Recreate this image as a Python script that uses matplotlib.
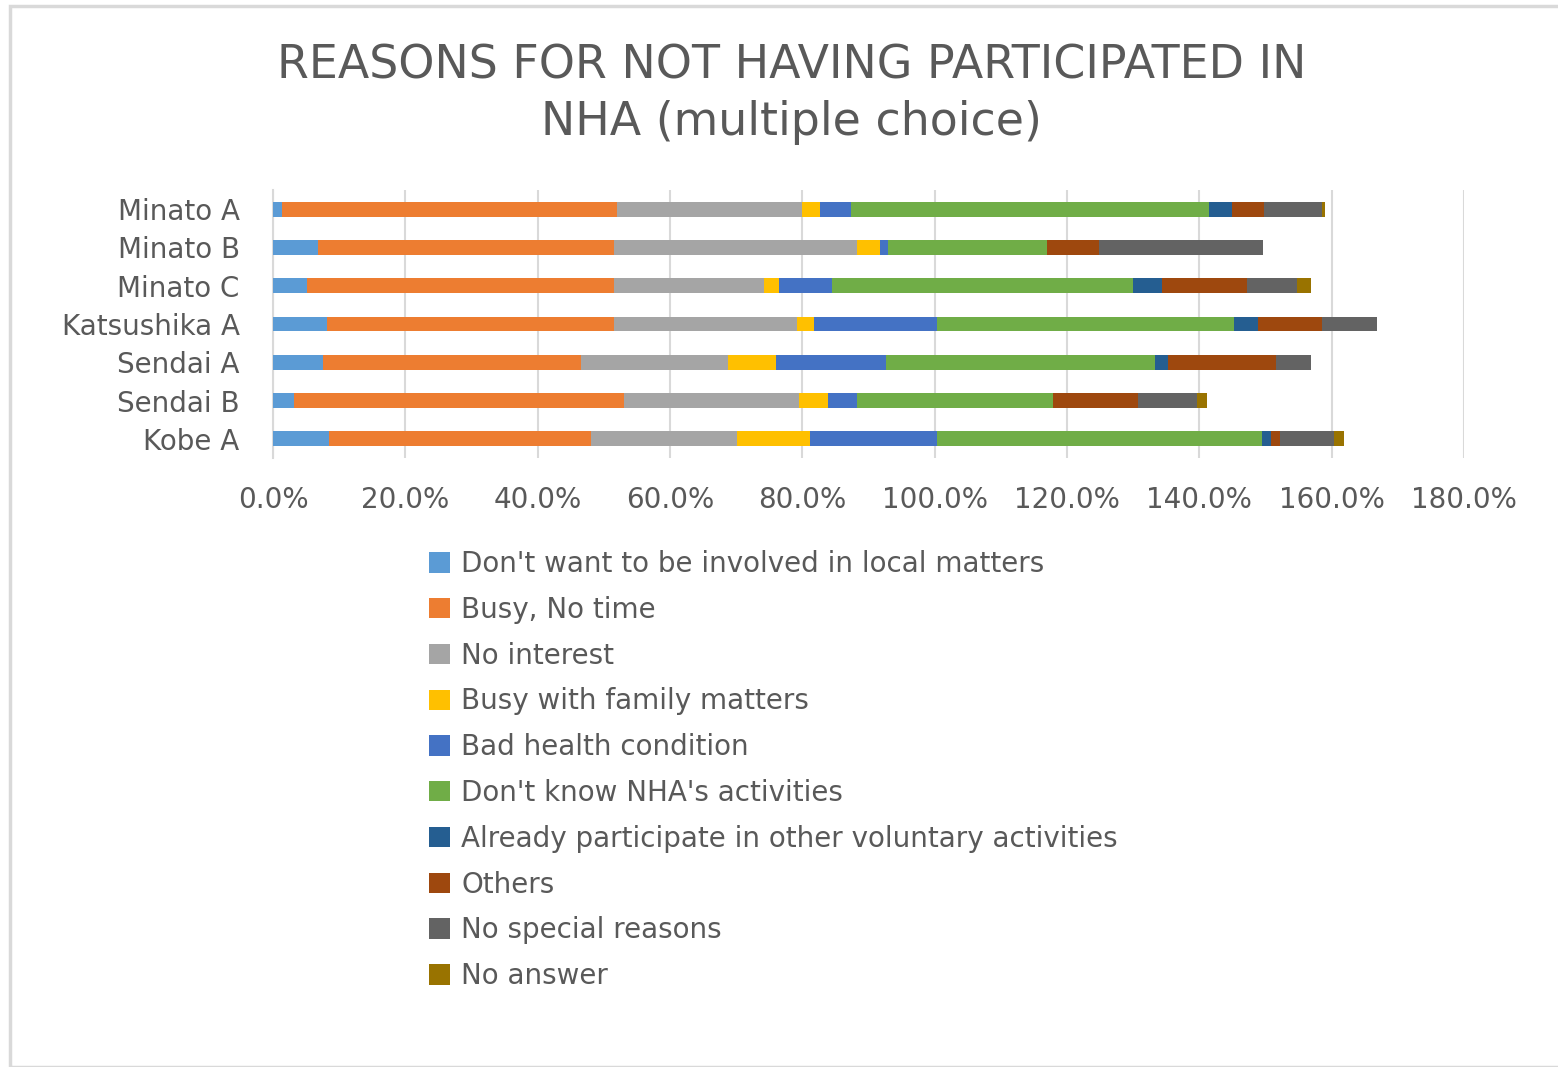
import matplotlib.pyplot as plt
import matplotlib.patches as mpatches
from matplotlib.ticker import FuncFormatter, MultipleLocator
import numpy as np

# Areas (top to bottom as in the chart)
areas = ["Minato A", "Minato B", "Minato C", "Katsushika A", "Sendai A", "Sendai B", "Kobe A"]

reasons = [
    "Don't want to be involved in local matters",
    "Busy, No time",
    "No interest",
    "Busy with family matters",
    "Bad health condition",
    "Don't know NHA's activities",
    "Already participate in other voluntary activities",
    "Others",
    "No special reasons",
    "No answer",
]

# percent of respondents per reason, one list per area
minato_a = [1.4, 50.6, 27.9, 2.8, 4.7, 54.1, 3.4, 4.8, 8.8, 0.5]
minato_b = [6.8, 44.7, 36.8, 3.4, 1.3, 24.0, 0.0, 7.8, 24.8, 0.0]
minato_c = [5.2, 46.3, 22.7, 2.2, 8.1, 45.4, 4.4, 12.9, 7.5, 2.2]
katsushika_a = [8.1, 43.4, 27.7, 2.5, 18.6, 44.9, 3.6, 9.7, 8.4, 0.0]
sendai_a = [7.5, 39.0, 22.3, 7.2, 16.7, 40.6, 1.9, 16.4, 5.3, 0.0]
sendai_b = [3.1, 50.0, 26.4, 4.4, 4.4, 29.6, 0.0, 12.9, 8.8, 1.6]
kobe_a = [8.4, 39.7, 22.0, 11.0, 19.2, 49.1, 1.5, 1.3, 8.1, 1.6]

colors = ["#5B9BD5", "#ED7D31", "#A5A5A5", "#FFC000", "#4472C4",
          "#70AD47", "#255E91", "#9E480E", "#636363", "#997300"]

values = np.array([minato_a, minato_b, minato_c, katsushika_a, sendai_a, sendai_b, kobe_a])

fig = plt.figure(figsize=(15.58, 10.67), dpi=100)
ax = fig.add_axes([273 / 1558, 1 - 458 / 1067, (1464 - 273) / 1558, (458 - 190) / 1067])

# chart frame
fig.patches.append(mpatches.Rectangle((10 / 1558, 0.0), 1.0, 1 - 6 / 1067,
                                      transform=fig.transFigure, fill=False,
                                      edgecolor="#D9D9D9", linewidth=2.5))

y = np.arange(len(areas))
left = np.zeros(len(areas))
for i, reason in enumerate(reasons):
    ax.barh(y, values[:, i], left=left, height=0.39, color=colors[i],
            label=reason, zorder=3)
    left += values[:, i]

ax.set_xlim(0, 180)
ax.set_ylim(len(areas) - 0.5, -0.5)
ax.xaxis.set_major_locator(MultipleLocator(20))
ax.xaxis.set_major_formatter(FuncFormatter(lambda v, p: f"{v:.1f}%"))
ax.set_yticks(y)
ax.set_yticklabels(areas)
ax.tick_params(axis="both", length=0, labelsize=20, colors="#595959")
ax.tick_params(axis="x", pad=20)
ax.tick_params(axis="y", pad=24)
ax.grid(axis="x", color="#D9D9D9", linewidth=1.5, zorder=0)
for s in ["top", "right", "bottom"]:
    ax.spines[s].set_visible(False)
ax.spines["left"].set_color("#D9D9D9")
ax.spines["left"].set_linewidth(1.5)

fig.text(0.508, 1 - 94 / 1067, "REASONS FOR NOT HAVING PARTICIPATED IN\nNHA (multiple choice)",
         ha="center", va="center", fontsize=33, color="#595959", linespacing=1.33)

handles, labels = ax.get_legend_handles_labels()
fig.legend(handles, labels, loc="upper left", bbox_to_anchor=(418 / 1558, 1 - 539 / 1067),
           frameon=False, fontsize=20, labelcolor="#595959", handlelength=0.75,
           handleheight=0.75, handletextpad=0.4, labelspacing=0.64, borderaxespad=0)

fig.savefig("out.png", dpi=100)
